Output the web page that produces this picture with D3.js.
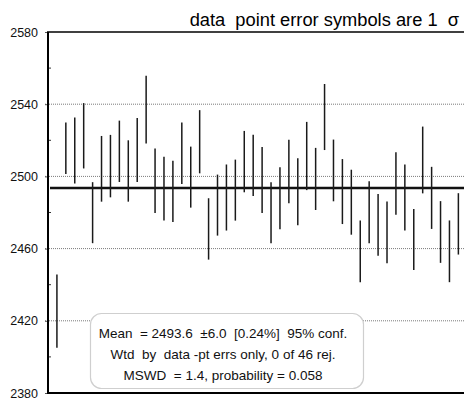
<!DOCTYPE html>
<html>
<head>
<meta charset="utf-8">
<script src="https://cdn.jsdelivr.net/npm/d3@7"></script>
<style>
  html, body { margin: 0; padding: 0; background: #fff; }
  svg { display: block; font-family: "Liberation Sans", Arial, Helvetica, sans-serif; }
</style>
</head>
<body>
<svg id="chart" width="464" height="401"></svg>
<script>
// Analysis number (1..46), weighted-mean values and 1-sigma errors
const spots = d3.range(1, 47);
const values = [
  2425.4, 2515.6, 2514.4, 2522.5, 2479.9, 2504.2, 2505.7, 2513.9, 2503.0, 2514.6,
  2537.0, 2497.6, 2493.2, 2491.7, 2512.8, 2499.6, 2519.2, 2470.9, 2484.1, 2488.3,
  2492.4, 2508.2, 2506.1, 2498.0, 2479.9, 2487.9, 2502.7, 2491.5, 2511.3, 2498.6,
  2532.9, 2503.3, 2491.6, 2485.7, 2458.5, 2480.1, 2473.2, 2469.0, 2496.1, 2488.3,
  2465.1, 2509.1, 2488.1, 2469.2, 2458.5, 2473.7
];
const sigmas = [
  20.3, 14.3, 18.3, 18.1, 16.9, 18.2, 17.3, 17.0, 17.0, 17.7,
  18.8, 17.9, 17.7, 17.0, 17.0, 16.9, 17.5, 17.0, 16.9, 18.3,
  16.9, 17.0, 17.0, 18.3, 16.9, 17.2, 17.6, 18.6, 18.9, 17.2,
  18.3, 17.1, 18.0, 18.0, 17.1, 17.2, 17.1, 17.1, 17.3, 18.3,
  16.9, 18.5, 17.2, 17.1, 17.1, 17.0
];
const majorTicks = [2380, 2420, 2460, 2500, 2540, 2580];
const minorTicks = [2400, 2440, 2480, 2520, 2560];
const gridValues = [2420, 2460, 2500, 2540];
const meanValue = 2493.6;
const titleText = "data  point error symbols are 1  \u03c3";
const statLines = [
  "Mean  = 2493.6  \u00b16.0  [0.24%]  95% conf.",
  "Wtd  by  data -pt errs only, 0 of 46 rej.",
  "MSWD  = 1.4, probability = 0.058"
];

const svg = d3.select("#chart");
const plotLeft = 48, plotRight = 467.3, plotTop = 32, plotBottom = 393;

const x = d3.scaleLinear().domain([0, 47]).range([plotLeft, plotRight]);
const y = d3.scaleLinear().domain([2380, 2580]).range([plotBottom, plotTop]);

// dotted grid lines
svg.append("g").selectAll("line").data(gridValues).join("line")
  .attr("x1", plotLeft - 3).attr("x2", 464)
  .attr("y1", d => y(d)).attr("y2", d => y(d))
  .attr("stroke", "#7a7a7a").attr("stroke-width", 1)
  .attr("stroke-dasharray", "1,1");

// weighted mean line
svg.append("line")
  .attr("x1", plotLeft + 2).attr("x2", 464)
  .attr("y1", y(meanValue)).attr("y2", y(meanValue))
  .attr("stroke", "#111").attr("stroke-width", 2.6);

// 1-sigma error bars
svg.append("g").selectAll("line").data(spots).join("line")
  .attr("x1", d => x(d)).attr("x2", d => x(d))
  .attr("y1", (d, i) => y(values[i] + sigmas[i]))
  .attr("y2", (d, i) => y(values[i] - sigmas[i]))
  .attr("stroke", "#1a1a1a").attr("stroke-width", 1.5);

// statistics box
const box = svg.append("g");
box.append("rect")
  .attr("x", 90.5).attr("y", 313.5).attr("width", 273).attr("height", 75)
  .attr("rx", 11).attr("ry", 11)
  .attr("fill", "#fff").attr("stroke", "#cfcfcf").attr("stroke-width", 1.2);
box.selectAll("text").data(statLines).join("text")
  .attr("x", 223).attr("y", (d, i) => 338 + i * 21)
  .attr("text-anchor", "middle")
  .attr("font-size", 13.5).attr("fill", "#111")
  .style("white-space", "pre")
  .text(d => d);

// left axis with outward major ticks and inward minor ticks
const yAxis = d3.axisLeft(y).tickValues(majorTicks).tickSize(3).tickPadding(7).tickFormat(d3.format("d"));
const ax = svg.append("g").attr("transform", `translate(${plotLeft},0)`).call(yAxis);
ax.select(".domain").remove();
ax.selectAll("text").attr("font-size", 12.5).attr("fill", "#111")
  .attr("font-family", "'Liberation Sans', Arial, sans-serif");
ax.selectAll(".tick line").attr("stroke", "#555");
svg.append("g").selectAll("line").data(minorTicks).join("line")
  .attr("x1", plotLeft).attr("x2", plotLeft + 3)
  .attr("y1", d => y(d)).attr("y2", d => y(d))
  .attr("stroke", "#333").attr("stroke-width", 1);

// frame: left, top, bottom
svg.append("line").attr("x1", plotLeft).attr("x2", plotLeft).attr("y1", plotTop).attr("y2", plotBottom)
  .attr("stroke", "#000").attr("stroke-width", 2);
svg.append("line").attr("x1", plotLeft - 1).attr("x2", 464).attr("y1", plotTop).attr("y2", plotTop)
  .attr("stroke", "#000").attr("stroke-width", 1.6);
svg.append("line").attr("x1", plotLeft - 1).attr("x2", 464).attr("y1", plotBottom).attr("y2", plotBottom)
  .attr("stroke", "#000").attr("stroke-width", 2);

// title
svg.append("text")
  .attr("x", 459).attr("y", 26)
  .attr("text-anchor", "end")
  .attr("font-size", 18.3).attr("fill", "#000")
  .style("white-space", "pre")
  .text(titleText);
</script>
</body>
</html>
